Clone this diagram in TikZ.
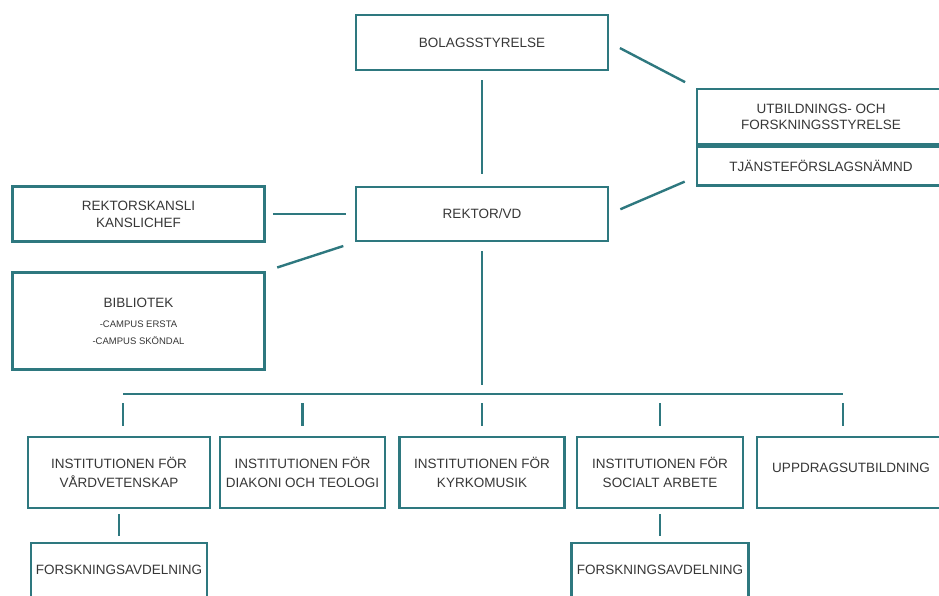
\documentclass[tikz,border=0pt]{standalone}
\usepackage{fontspec}
\setmainfont{Liberation Sans}
\usepackage{tikz}
\usetikzlibrary{positioning}
\definecolor{orgline}{RGB}{46,120,127}
\definecolor{orgtext}{RGB}{55,55,55}
\newcommand{\campus}{\fontsize{9.5}{17}\selectfont}
\tikzstyle{unit} = [rectangle, draw=orgline, line width=2.6pt, fill=white, text=orgtext, align=center, inner sep=2pt, font=\fontsize{13.5}{17}\selectfont]
\tikzstyle{wide} = [minimum width=252pt, minimum height=55pt]
\tikzstyle{dept} = [minimum height=71pt, font=\fontsize{13.5}{18.5}\selectfont]
\tikzstyle{link} = [draw=orgline, line width=2.4pt]
\tikzstyle{gaplink} = [link, shorten <=10pt, shorten >=10pt]

\begin{document}
\begin{tikzpicture}[x=1pt, y=-1pt, node distance=100pt]
		\useasboundingbox (0,0) rectangle (939,595);
		\node (bolag) [unit, wide] at (482,42.5) {BOLAGSSTYRELSE};
		\node (rektor) [unit, wide, minimum height=54pt, below of=bolag, yshift=-71.5pt] {REKTOR/VD};
		\node (kansli) [unit, wide, left of=rektor, xshift=-243.5pt] {REKTORSKANSLI\\KANSLICHEF};
		\node (bibl) [unit, wide, minimum height=97pt, below of=kansli, yshift=-7pt] {BIBLIOTEK\\[3pt]{\campus -CAMPUS ERSTA}\\{\campus -CAMPUS SKÖNDAL}};
		
		\node (ufs) [unit, minimum width=248pt, minimum height=55pt, font=\fontsize{13.5}{16}\selectfont] at (821,116.5) {UTBILDNINGS- OCH\\FORSKNINGSSTYRELSE};
		\node (tjanst) [unit, minimum width=248pt, minimum height=39pt, below=0pt of ufs] {TJÄNSTEFÖRSLAGSNÄMND};
		
		\node (inst1) [unit, dept, minimum width=182pt] at (119,472.5) {INSTITUTIONEN FÖR\\VÅRDVETENSKAP};
		\node (inst2) [unit, dept, minimum width=165pt] at (302.5,472.5) {INSTITUTIONEN FÖR\\DIAKONI OCH TEOLOGI};
		\node (inst3) [unit, dept, minimum width=165pt, below of=rektor, yshift=-158.5pt] {INSTITUTIONEN FÖR\\KYRKOMUSIK};
		\node (inst4) [unit, dept, minimum width=166pt] at (660,472.5) {INSTITUTIONEN FÖR\\SOCIALT ARBETE};
		\node (uppdrag) [unit, dept, minimum width=188pt, text depth=10pt] at (851,472.5) {UPPDRAGSUTBILDNING};
		
		\node (forsk1) [unit, minimum width=176pt, minimum height=54pt, below of=inst1, yshift=2.5pt] {FORSKNINGSAVDELNING};
		\node (forsk2) [unit, minimum width=177pt, minimum height=54pt, below of=inst4, yshift=2.5pt] {FORSKNINGSAVDELNING};
		
		\coordinate (busL) at (123,394);
		\coordinate (busR) at (843,394);
		
		% upper part
		\draw [gaplink, shorten <=9pt, shorten >=12pt] (bolag) -- (bolag |- rektor.north);
		\draw [gaplink, shorten <=12pt, shorten >=12pt] (bolag.east) -- (ufs.north west);
		\draw [gaplink, shorten <=12pt, shorten >=12pt] (rektor.east) -- ([yshift=10pt]tjanst.south west);
		\draw [gaplink, shorten <=7pt, shorten >=9pt] (kansli.east) -- (rektor.west);
		\draw [gaplink, shorten <=12pt, shorten >=12pt] (bibl.north east) -- (rektor.south west);
		
		% the institutions
		\draw [gaplink, shorten <=9pt, shorten >=9pt] (rektor) -- (rektor |- busL);
		\draw [link] (busL) -- (busR);
		\draw [gaplink, shorten <=9pt] (busL) -- (busL |- inst1.north);
		\draw [gaplink, shorten <=9pt] (inst2 |- busL) -- (inst2);
		\draw [gaplink, shorten <=9pt] (inst3 |- busL) -- (inst3);
		\draw [gaplink, shorten <=9pt] (inst4 |- busL) -- (inst4);
		\draw [gaplink, shorten <=9pt] (busR) -- (busR |- uppdrag.north);
		
		\draw [gaplink, shorten <=5pt, shorten >=6pt] (inst1) -- (forsk1);
		\draw [gaplink, shorten <=5pt, shorten >=6pt] (inst4) -- (forsk2);
\end{tikzpicture}
\end{document}
